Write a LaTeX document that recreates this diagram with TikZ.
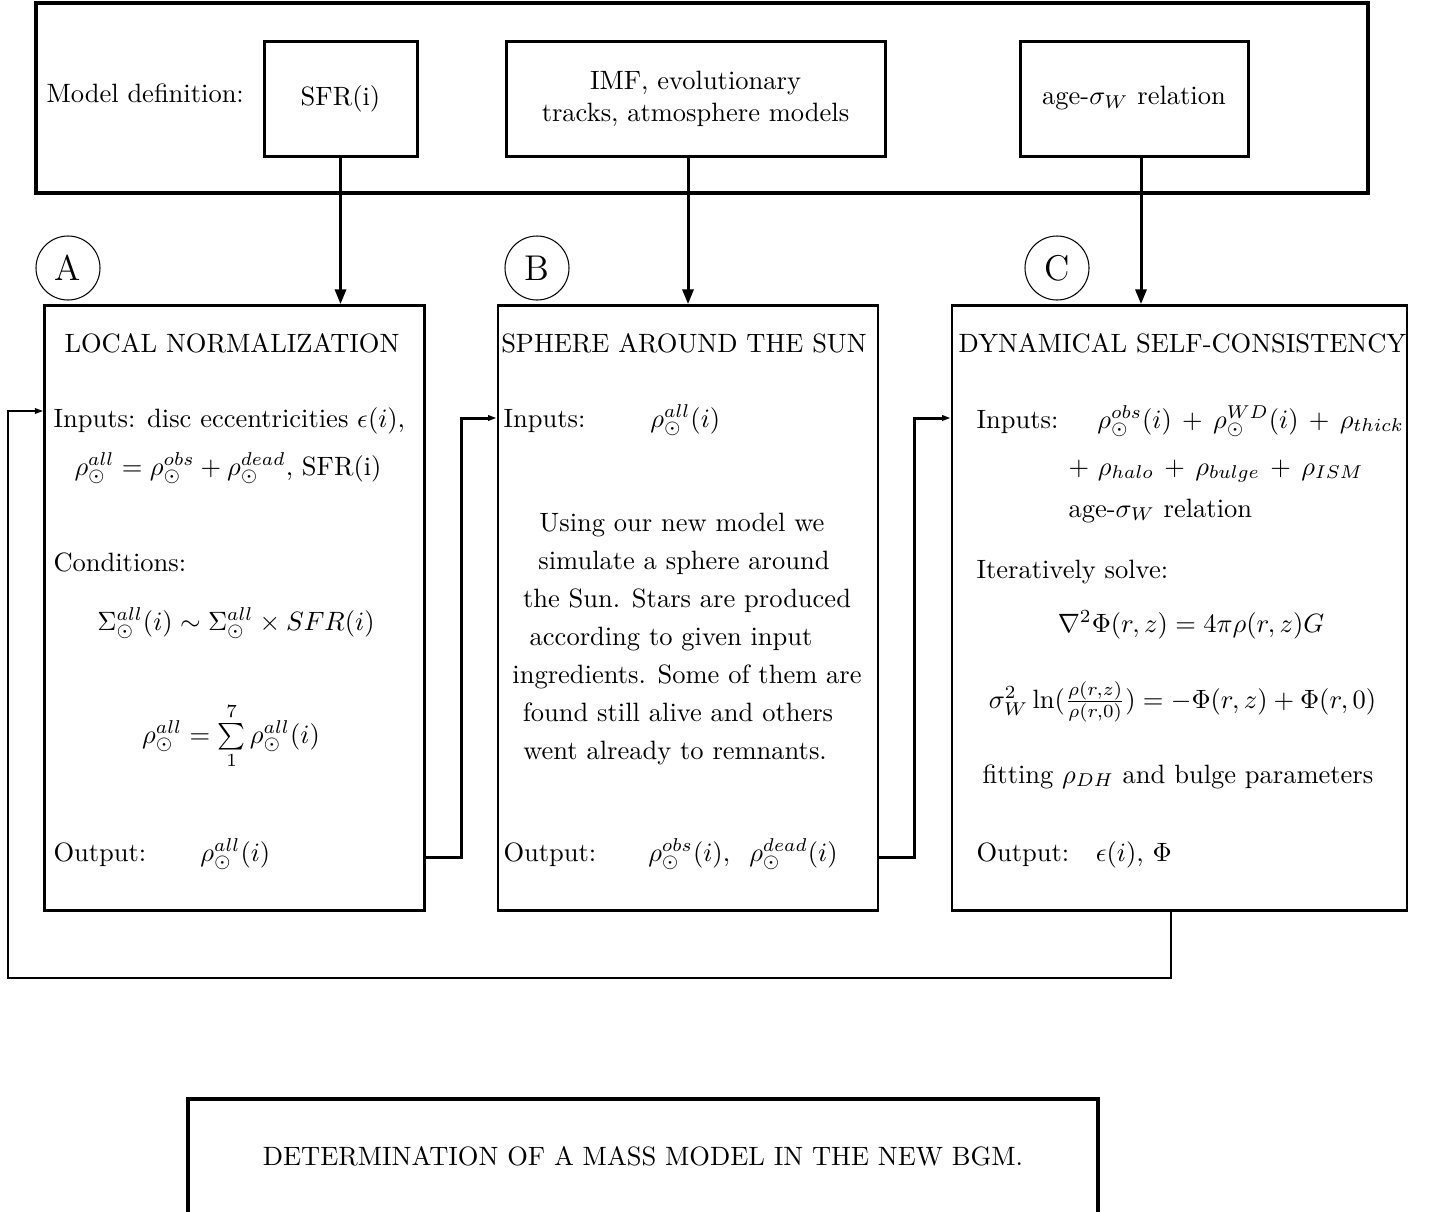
\documentclass[tikz,border=0pt]{standalone}
\usetikzlibrary{arrows.meta}
\begin{document}
\begin{tikzpicture}[x=0.3774pt,y=-0.3774pt,
  box/.style n args={3}{draw, line width=#3, minimum width=#1*0.3774pt, minimum height=#2*0.3774pt, inner sep=0pt},
  circ/.style={draw, circle, line width=0.4pt, minimum size=64*0.3774pt, inner sep=0pt, font=\fontsize{13.5}{16}\selectfont},
  lt/.style={inner sep=0pt, anchor=base west},
  ct/.style={inner sep=0pt, anchor=base},
  down/.style={line width=1.13pt, -{Triangle[length=5.6pt,width=4.2pt]}},
  side/.style={line width=1.13pt, -{Triangle[length=3.2pt,width=2pt]}},
  fb/.style={line width=0.75pt, -{Triangle[length=3.2pt,width=2pt]}}
]
\useasboundingbox (0,0) rectangle (1435,1211);

% top model-definition box
\node[box={1332}{190}{1.5pt}] (outer) at (702,98) {};
\node[lt] (mdl) at (46,102) {Model definition:};
\node[box={153}{115}{1.13pt}] (sfr) at (340.5,98.5) {SFR(i)};
\node[box={379}{115}{1.13pt}, align=center] (imf) at (695.5,98.5) {IMF, evolutionary\\tracks, atmosphere models};
\node[box={228}{115}{1.13pt}] (age) at (1134,98.5) {age-$\sigma_W$ relation};

% circles
\node[circ] (cA) at (68,268) {A};
\node[circ] (cB) at (537,268) {B};
\node[circ] (cC) at (1057,268) {C};

% main boxes
\node[box={379.5}{605}{1.05pt}] (bA) at (234.5,608) {};
\node[box={380}{605}{1.05pt}] (bB) at (688,608) {};
\node[box={455}{605}{1.05pt}] (bC) at (1179.5,608) {};

% box A text
\node[ct] (tA) at (232,352) {LOCAL NORMALIZATION};
\node[lt] (inA) at (53,427) {Inputs: disc eccentricities $\epsilon(i)$,};
\node[ct] (rhoA) at (228,475) {$\rho_\odot^{all} = \rho_\odot^{obs} + \rho_\odot^{dead}$, SFR(i)};
\node[lt] (condA) at (53,571) {Conditions:};
\node[ct] (sigA) at (236,630) {$\Sigma_\odot^{all}(i) \sim \Sigma_\odot^{all} \times SFR(i)$};
\node[ct] (sumA) at (231,743) {$\rho_\odot^{all} = \sum\limits_1^7 \rho_\odot^{all}(i)$};
\node[lt] (outA) at (53,861) {Output:\hspace{20.4pt}$\rho_\odot^{all}(i)$};

% box B text
\node[ct] (tB) at (684,352) {SPHERE AROUND THE SUN};
\node[lt] (inB) at (503,427) {Inputs:\hspace{24.5pt}$\rho_\odot^{all}(i)$};
\node[inner sep=0pt, align=center, font={\fontsize{10}{14.3}\selectfont}] (parB) at (687,639)
  {Using our new model we\kern3.8pt\\
   simulate a sphere around\kern2.3pt\\
   the Sun. Stars are produced\\
   according to given input\kern12pt\\
   ingredients. Some of them are\\
   found still alive and others\kern6.8pt\\
   went already to remnants.\kern9pt};
\node[lt] (outB) at (503,861) {Output:\hspace{19.6pt}$\rho_\odot^{obs}(i),\;\;\rho_\odot^{dead}(i)$};

% box C text
\node[ct] (tC) at (1182.5,352) {DYNAMICAL SELF-CONSISTENCY};
\node[lt] (inC) at (976,428) {Inputs:\hspace{14.7pt}$\rho_\odot^{obs}(i) \,+\, \rho_\odot^{WD}(i) \,+\, \rho_{thick}$};
\node[lt] (inC2) at (1068,475) {$+\ \rho_{halo} \,+\, \rho_{bulge} \,+\, \rho_{ISM}$};
\node[lt] (inC3) at (1068,517) {age-$\sigma_W$ relation};
\node[lt] (itC) at (976,578) {Iteratively solve:};
\node[ct] (poisC) at (1191,632) {$\nabla^2\Phi(r,z) = 4\pi\rho(r,z)G$};
\node[ct] (jeansC) at (1182.5,708) {$\sigma_W^2 \ln(\frac{\rho(r,z)}{\rho(r,0)}) = -\Phi(r,z) + \Phi(r,0)$};
\node[ct] (fitC) at (1178,783) {fitting $\rho_{DH}$ and bulge parameters};
\node[lt] (outC) at (976,861) {Output:\hspace{10pt}$\epsilon(i)$, $\Phi$};

% bottom box
\node[box={910}{126}{1.3pt}] (bot) at (643,1162) {};
\node[ct] (botT) at (643,1165) {DETERMINATION OF A MASS MODEL IN THE NEW BGM.};

% connectors
\draw[down] (sfr.south) -- (sfr.south |- bA.north);
\draw[down] (bB.north |- imf.south) -- (bB.north);
\coordinate (ageout) at (1141,156);
\draw[down] (ageout) -- (ageout |- bC.north);

\draw[side] (bA.east |- 0,857) -| (461,418) -- (bB.west |- 0,418);
\draw[side] (bB.east |- 0,857) -| (914,418) -- (bC.west |- 0,418);
\coordinate (fbC) at (1171,978);
\coordinate (fbA) at (8,978);
\draw[fb] (bC.south -| fbC) -- (fbC) -- (fbA) |- (bA.west |- 0,411);
\end{tikzpicture}
\end{document}
